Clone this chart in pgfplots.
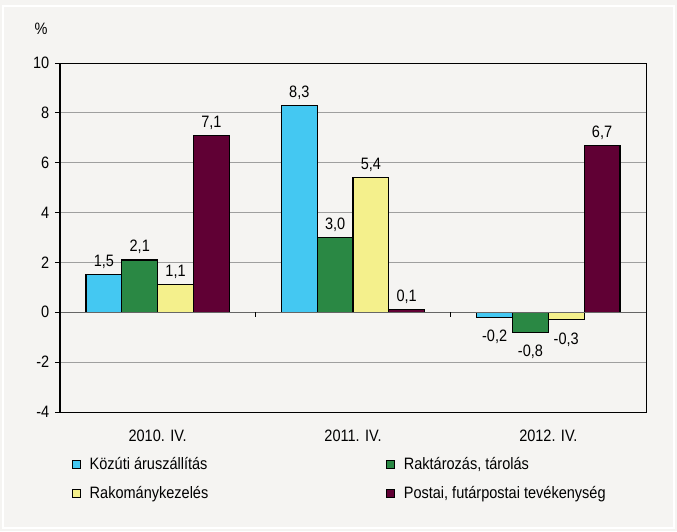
\documentclass[border=0pt]{standalone}
\usepackage{fontspec}
\setmainfont[FakeStretch=0.88]{Liberation Sans}
\usepackage{pgfplots}
\pgfplotsset{compat=1.18}

\definecolor{bgc}{HTML}{F5F4F2}
\definecolor{kozuti}{HTML}{44C8F2}
\definecolor{raktar}{HTML}{2A8844}
\definecolor{rakomany}{HTML}{F4F08C}
\definecolor{postai}{HTML}{600034}

\begin{document}
\fontsize{16.5}{19}\selectfont
\begin{tikzpicture}
\fill[bgc] (-60pt,-119pt) rectangle (617pt,412pt);
\draw[white, line width=1.5pt] (-57pt,-116pt) rectangle (614pt,406pt);
\begin{axis}[
  at={(0,0)}, anchor=south west,
  scale only axis, width=586pt, height=349pt,
  axis background/.style={fill=bgc},
  ymin=-4, ymax=10, ytick={-4,-2,...,10},
  xmin=-0.5, xmax=2.5, xtick={0,1,2},
  xticklabels={2010. IV., 2011. IV., 2012. IV.},
  xtick style={draw=none},
  ytick pos=left, tick align=outside, major tick length=5pt,
  ytick style={black, line width=0.8pt},
  xticklabel style={yshift=-7pt},
  /pgf/number format/assume math mode=true,
  ymajorgrids, major grid style={gray!75, line width=0.8pt},
  axis line style={black, line width=1pt},
  ybar=0pt, bar width=35.8pt,
  every axis plot/.append style={draw=black, line width=1.2pt},
  visualization depends on={y \as \rawy},
  nodes near coords,
  nodes near coords style={black, yshift={\rawy<0 ? -7 : 0},
    /pgf/number format/.cd, fixed, fixed zerofill, precision=1, use comma, assume math mode=true},
  legend columns=2,
  legend cell align=left,
  legend image code/.code={\path[draw=none,fill=none] (0pt,0pt) rectangle (15pt,0.1pt);\draw[#1,/tikz/.cd,line width=1pt] (0pt,-3.5pt) rectangle (8pt,4.5pt);},
  legend style={at={(0,0)}, anchor=north west, xshift=9pt, yshift=-41pt,
    draw=none, fill=none, row sep=11pt,
    /tikz/column 2/.style={column sep=176pt}},
]
\addplot[fill=kozuti] coordinates {(0,1.5) (1,8.3) (2,-0.2)};
\addlegendentry{Közúti áruszállítás}
\addplot[fill=raktar] coordinates {(0,2.1) (1,3.0) (2,-0.8)};
\addlegendentry{Raktározás, tárolás}
\addplot[fill=rakomany] coordinates {(0,1.1) (1,5.4) (2,-0.3)};
\addlegendentry{Rakománykezelés}
\addplot[fill=postai] coordinates {(0,7.1) (1,0.1) (2,6.7)};
\addlegendentry{Postai, futárpostai tevékenység}
\draw[gray!80!black, line width=1.4pt] (axis cs:-0.5,0) -- (axis cs:2.5,0);
\draw[black, line width=0.8pt] (axis cs:0.5,0) -- ([yshift=-5pt]axis cs:0.5,0);
\draw[black, line width=0.8pt] (axis cs:1.5,0) -- ([yshift=-5pt]axis cs:1.5,0);
\draw[black, line width=2pt] (rel axis cs:0,0) -- (rel axis cs:0,1);
\end{axis}
\node at ([shift={(-19pt,34pt)}]current axis.north west) {\%};
\end{tikzpicture}
\end{document}
